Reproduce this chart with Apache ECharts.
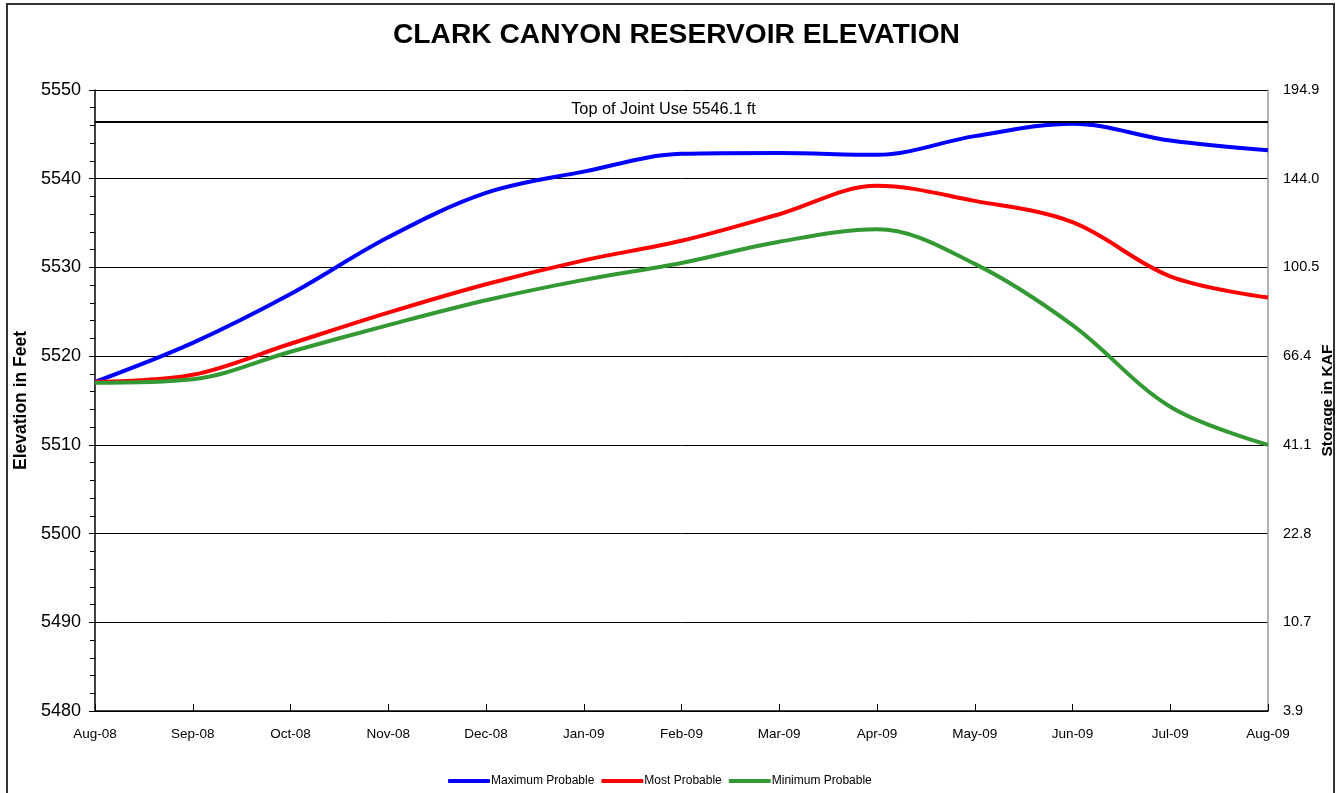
<!DOCTYPE html>
<html><head><meta charset="utf-8">
<script src="https://cdn.jsdelivr.net/npm/echarts@6/dist/echarts.min.js"></script>
<style>html,body{margin:0;padding:0;background:#fff;overflow:hidden}#c{width:1340px;height:793px}</style>
</head><body><div id="c"></div>
<script>
const months = ['Aug-08','Sep-08','Oct-08','Nov-08','Dec-08','Jan-09','Feb-09','Mar-09','Apr-09','May-09','Jun-09','Jul-09','Aug-09'];
const maxProbable = [5517.1,5521.5,5527.0,5533.4,5538.4,5540.8,5542.8,5542.9,5542.7,5544.8,5546.2,5544.3,5543.2];
const mostProbable = [5517.1,5517.9,5521.4,5524.9,5528.1,5530.8,5533.0,5536.0,5539.2,5537.5,5535.1,5529.0,5526.6];
const minProbable = [5517.0,5517.4,5520.5,5523.5,5526.3,5528.6,5530.5,5532.9,5534.3,5530.4,5523.5,5514.3,5510.0];
const elevTicks = [5480,5490,5500,5510,5520,5530,5540,5550];
const storageLabels = ['3.9','10.7','22.8','41.1','66.4','100.5','144.0','194.9'];
const jointUse = 5546.4;
const jointUseLabel = 'Top of Joint Use 5546.1 ft';

const F = 'Liberation Sans, Arial, sans-serif';
const chart = echarts.init(document.getElementById('c'), null, {renderer:'canvas', width:1340, height:793});
chart.setOption({
  animation:false,
  backgroundColor:'#fff',
  textStyle:{fontFamily:F},
  title:{text:'CLARK CANYON RESERVOIR ELEVATION', left:388, top:16,
    textStyle:{fontFamily:F, fontSize:28.2, fontWeight:'bold', color:'#000'}},
  graphic:[{type:'rect', shape:{x:7,y:4,width:1327,height:800}, style:{fill:null, stroke:'#333', lineWidth:2}, silent:true, z:-1}],
  legend:{bottom:1, left:443, itemWidth:42, itemHeight:4, itemGap:7, icon:'roundRect',
    textStyle:{fontFamily:F, fontSize:12, color:'#000', padding:[0,0,0,-4]},
    data:['Maximum Probable','Most Probable','Minimum Probable']},
  grid:{left:95, right:72, top:90, bottom:82, containLabel:false, outerBoundsMode:'none'},
  xAxis:{type:'category', data:months, boundaryGap:false,
    axisLine:{lineStyle:{color:'#000', width:1.5}},
    axisTick:{inside:true, length:7, lineStyle:{color:'#000'}},
    axisLabel:{fontFamily:F, fontSize:13.5, color:'#000', margin:16},
    splitLine:{show:false}},
  yAxis:[{type:'value', min:5480, max:5550, interval:10, position:'left',
    name:'Elevation in Feet', nameLocation:'middle', nameGap:57,
    nameTextStyle:{fontFamily:F, fontSize:17.5, fontWeight:'bold', color:'#000'},
    axisLine:{show:true, lineStyle:{color:'#000', width:1.5}},
    axisTick:{show:true, length:6, lineStyle:{color:'#000'}},
    minorTick:{show:true, splitNumber:5, length:5, lineStyle:{color:'#000'}},
    axisLabel:{fontFamily:F, fontSize:18, color:'#000', margin:14, formatter:v=>String(v)},
    splitLine:{show:true, lineStyle:{color:'#000', width:1}}},
   {type:'value', min:5480, max:5550, interval:10, position:'right',
    name:'Storage in KAF', nameLocation:'middle', nameGap:52, nameMoveOverlap:false,
    nameTextStyle:{fontFamily:F, fontSize:15.5, fontWeight:'bold', color:'#000'},
    axisLine:{show:true, lineStyle:{color:'#999', width:1.5}},
    axisTick:{show:false},
    axisLabel:{fontFamily:F, fontSize:14.5, color:'#000', margin:15,
      formatter:v=>{const i=elevTicks.indexOf(v);return i>=0?storageLabels[i]:'';}},
    splitLine:{show:false}}],
  series:[
    {name:'Maximum Probable', type:'line', data:maxProbable, smooth:0.35, showSymbol:false, symbol:'none',
     lineStyle:{color:'#0000FF', width:4}, itemStyle:{color:'#0000FF'}, z:3,
     markLine:{silent:true, symbol:'none', data:[{yAxis:jointUse}],
       lineStyle:{color:'#000', width:2, type:'solid'},
       label:{show:true, position:'middle', formatter:jointUseLabel, fontFamily:F, fontSize:16.3, color:'#000', distance:4, padding:[0,36,0,0]}}},
    {name:'Most Probable', type:'line', data:mostProbable, smooth:0.35, showSymbol:false, symbol:'none',
     lineStyle:{color:'#FF0000', width:4}, itemStyle:{color:'#FF0000'}, z:3},
    {name:'Minimum Probable', type:'line', data:minProbable, smooth:0.35, showSymbol:false, symbol:'none',
     lineStyle:{color:'#339933', width:4}, itemStyle:{color:'#339933'}, z:3}
  ]
});
</script></body></html>
